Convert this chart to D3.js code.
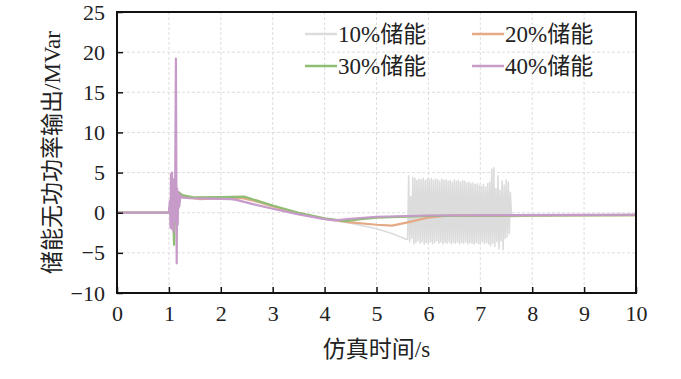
<!DOCTYPE html>
<html>
<head>
<meta charset="utf-8">
<script src="https://cdn.jsdelivr.net/npm/d3@7"></script>
<style>
  body { margin: 0; background: #fff; }
  text { font-family: "Liberation Serif", "Noto Sans CJK SC", serif; fill: #222; }
</style>
</head>
<body>
<div id="chart"></div>
<script>
// Data: [time in s, reactive power in MVar]

var xTicks = [0, 1, 2, 3, 4, 5, 6, 7, 8, 9, 10]
var yTicks = [-10, -5, 0, 5, 10, 15, 20, 25]

var seriesNames = ["10%储能", "20%储能", "30%储能", "40%储能"]
var seriesColors = ["#dcdcdc", "#e5a985", "#8fbd74", "#c69bc9"]

var s10 = [
  [0, 0], [1.0, 0], [1.03, 0.8], [1.06, -1.0], [1.09, 2.0], [1.12, -1.5], [1.15, 1.5],
  [1.2, 1.8], [1.3, 1.9], [2.0, 1.85], [2.4, 1.8], [2.7, 1.3], [3.0, 0.7], [3.5, -0.2],
  [4.0, -0.8], [4.5, -1.3], [5.0, -2.0], [5.3, -2.6], [5.57, -3.3],
  [5.60, -3.3], [5.62, 4.6], [5.64, -3.6], [5.66, 2.0], [5.68, -3.2], [5.70, 4.4],
  [5.72, -3.9], [5.74, 4.3], [5.76, -3.7], [5.78, 4.0], [5.80, -3.5], [5.82, 4.2],
  [5.84, -3.8], [5.86, 4.1], [5.88, -3.6], [5.90, 4.3], [5.92, -3.9], [5.94, 4.0],
  [5.96, -3.7], [5.98, 4.2], [6.00, -3.8], [6.02, 4.1], [6.04, -3.6], [6.06, 4.3],
  [6.08, -3.9], [6.10, 4.0], [6.12, -3.7], [6.14, 4.2], [6.16, -3.5], [6.18, 4.1],
  [6.20, -3.8], [6.22, 3.9], [6.24, -3.6], [6.26, 4.2], [6.28, -3.9], [6.30, 4.0],
  [6.32, -3.7], [6.34, 4.1], [6.36, -3.8], [6.38, 3.9], [6.40, -3.6], [6.42, 4.0],
  [6.44, -3.9], [6.46, 3.8], [6.48, -3.7], [6.50, 4.1], [6.52, -3.8], [6.54, 3.9],
  [6.56, -3.6], [6.58, 4.0], [6.60, -3.9], [6.62, 3.8], [6.64, -3.7], [6.66, 4.0],
  [6.68, -3.8], [6.70, 3.9], [6.72, -3.6], [6.74, 3.7], [6.76, -3.9], [6.78, 3.8],
  [6.80, -3.7], [6.82, 3.6], [6.84, -3.8], [6.86, 3.7], [6.88, -3.9], [6.90, 3.5],
  [6.92, -3.7], [6.94, 3.6], [6.96, -3.8], [6.98, 3.4], [7.00, -3.9], [7.02, 3.3],
  [7.04, -3.6], [7.06, 3.5], [7.08, -3.8], [7.10, 3.2], [7.12, -3.7], [7.14, 3.6],
  [7.16, -3.9], [7.18, 3.8], [7.20, -4.1], [7.22, 5.4], [7.24, -3.8], [7.26, 5.6],
  [7.28, -4.2], [7.30, 3.0], [7.32, -3.6], [7.34, 4.6], [7.36, -4.5], [7.38, 2.8],
  [7.40, -3.5], [7.42, 3.9], [7.44, -4.6], [7.46, 3.4], [7.48, -3.2], [7.50, 4.1],
  [7.52, -3.0], [7.54, 3.8], [7.56, -2.6], [7.58, 2.5], [7.60, -0.5],
  [8.0, -0.35], [10, -0.3]
]

var s20 = [
  [0, 0], [1.0, 0], [1.03, 1.0], [1.05, -1.2], [1.08, 2.5], [1.10, -2.5], [1.12, 1.8],
  [1.14, -1.0], [1.17, 2.4], [1.20, 1.2], [1.23, 2.3], [1.3, 2.0], [1.6, 1.7], [2.0, 1.8],
  [2.4, 1.85], [2.7, 1.4], [3.0, 0.8], [3.5, -0.1], [4.0, -0.75], [4.5, -1.2], [5.0, -1.5],
  [5.3, -1.6], [5.6, -1.2], [6.0, -0.6], [6.4, -0.35], [10, -0.3]
]

var s30 = [
  [0, 0], [1.0, 0], [1.03, 1.2], [1.05, -1.5], [1.07, 3.0], [1.09, -2.0], [1.10, -4.0],
  [1.12, 2.0], [1.14, -1.2], [1.16, 2.6], [1.18, 0.5], [1.20, 2.5], [1.25, 2.2], [1.5, 1.9],
  [2.0, 1.95], [2.45, 2.0], [2.7, 1.5], [3.0, 0.9], [3.5, 0.0], [4.0, -0.7], [4.4, -1.05],
  [4.7, -0.8], [5.0, -0.6], [6.0, -0.4], [10, -0.3]
]

var s40 = [
  [0, 0], [1.0, 0], [1.02, 1.5], [1.03, -1.8], [1.04, 4.8], [1.05, -2.0], [1.06, 5.0],
  [1.07, -1.5], [1.08, 4.2], [1.09, -2.4], [1.10, 3.5], [1.11, -1.0], [1.12, 2.5],
  [1.135, 19.2], [1.15, -6.3], [1.16, 3.0], [1.17, -1.5], [1.18, 2.6], [1.20, 0.8],
  [1.22, 2.2], [1.25, 1.9], [1.4, 1.8], [1.8, 1.75], [2.2, 1.7], [2.3, 1.6], [2.6, 1.1],
  [3.0, 0.5], [3.5, -0.2], [4.0, -0.8], [4.2, -0.95], [4.5, -0.75], [5.0, -0.5],
  [6.0, -0.35], [10, -0.25]
]

var allSeries = [s10, s20, s30, s40]

// Layout

var margin = { top: 12, right: 45, bottom: 86, left: 117 }
var width = 681 - margin.left - margin.right,
    height = 379 - margin.top - margin.bottom

var svg = d3.select("#chart").append("svg")
    .attr("width", 681)
    .attr("height", 379)
  .append("g")
    .attr("transform", "translate(" + margin.left + "," + margin.top + ")")

var x = d3.scaleLinear().domain([0, 10]).range([0, width])
var y = d3.scaleLinear().domain([-10, 25]).range([height, 0])

// Grid

svg.selectAll(".vgrid")
  .data(xTicks.slice(1, -1))
  .enter().append("line")
  .attr("x1", function (d) { return x(d) })
  .attr("x2", function (d) { return x(d) })
  .attr("y1", 0).attr("y2", height)
  .attr("stroke", "#dedede").attr("stroke-width", 1).attr("stroke-dasharray", "3,2")

svg.selectAll(".hgrid")
  .data(yTicks.slice(1, -1))
  .enter().append("line")
  .attr("x1", 0).attr("x2", width)
  .attr("y1", function (d) { return y(d) })
  .attr("y2", function (d) { return y(d) })
  .attr("stroke", "#dedede").attr("stroke-width", 1).attr("stroke-dasharray", "3,2")

// Lines

var line = d3.line()
  .x(function (d) { return x(d[0]) })
  .y(function (d) { return y(d[1]) })

svg.append("defs").append("clipPath").attr("id", "clip")
  .append("rect").attr("width", width).attr("height", height)

svg.append("g").attr("clip-path", "url(#clip)")
  .selectAll(".series")
  .data(allSeries)
  .enter().append("path")
  .attr("d", line)
  .attr("fill", "none")
  .attr("stroke", function (d, i) { return seriesColors[i] })
  .attr("stroke-width", function (d, i) { return i === 0 ? 1.6 : 2.2 })
  .attr("stroke-linejoin", "round")

// Axes: ticks pointing inward

var xAxis = svg.append("g")
  .attr("transform", "translate(0," + height + ")")
  .call(d3.axisBottom(x).tickValues(xTicks).tickSizeInner(-6).tickSizeOuter(0).tickPadding(12))
var yAxis = svg.append("g")
  .call(d3.axisLeft(y).tickValues(yTicks).tickSizeInner(-6).tickSizeOuter(0).tickPadding(12)
    .tickFormat(function (d) { return d < 0 ? "\u2212" + Math.abs(d) : d }))

xAxis.selectAll("text").attr("font-size", 22).attr("fill", "#222").attr("font-family", "Liberation Serif")
yAxis.selectAll("text").attr("font-size", 22).attr("fill", "#222").attr("font-family", "Liberation Serif")
xAxis.selectAll("line").attr("stroke", "#111").attr("stroke-width", 1.5)
yAxis.selectAll("line").attr("stroke", "#111").attr("stroke-width", 1.5)
xAxis.select(".domain").remove()
yAxis.select(".domain").remove()

svg.append("rect")
  .attr("width", width).attr("height", height)
  .attr("fill", "none").attr("stroke", "#111").attr("stroke-width", 2)

// Axis titles

svg.append("text")
  .attr("x", width / 2).attr("y", height + 64)
  .attr("text-anchor", "middle")
  .attr("font-size", 23)
  .text("仿真时间/s")

svg.append("text")
  .attr("transform", "translate(" + (-57) + "," + (height / 2) + ") rotate(-90)")
  .attr("text-anchor", "middle")
  .attr("font-size", 23)
  .text("储能无功功率输出/MVar")

// Legend

var legend = svg.selectAll(".legend")
  .data(seriesNames)
  .enter().append("g")
  .attr("transform", function (d, i) {
    return "translate(" + (188 + (i % 2) * 167) + "," + (22 + Math.floor(i / 2) * 32) + ")"
  })

legend.append("line")
  .attr("x1", 0).attr("x2", 32)
  .attr("stroke", function (d, i) { return seriesColors[i] })
  .attr("stroke-width", 2.5)

legend.append("text")
  .attr("x", 33).attr("dy", "0.35em")
  .attr("font-size", 23)
  .text(function (d) { return d })
</script>
</body>
</html>
